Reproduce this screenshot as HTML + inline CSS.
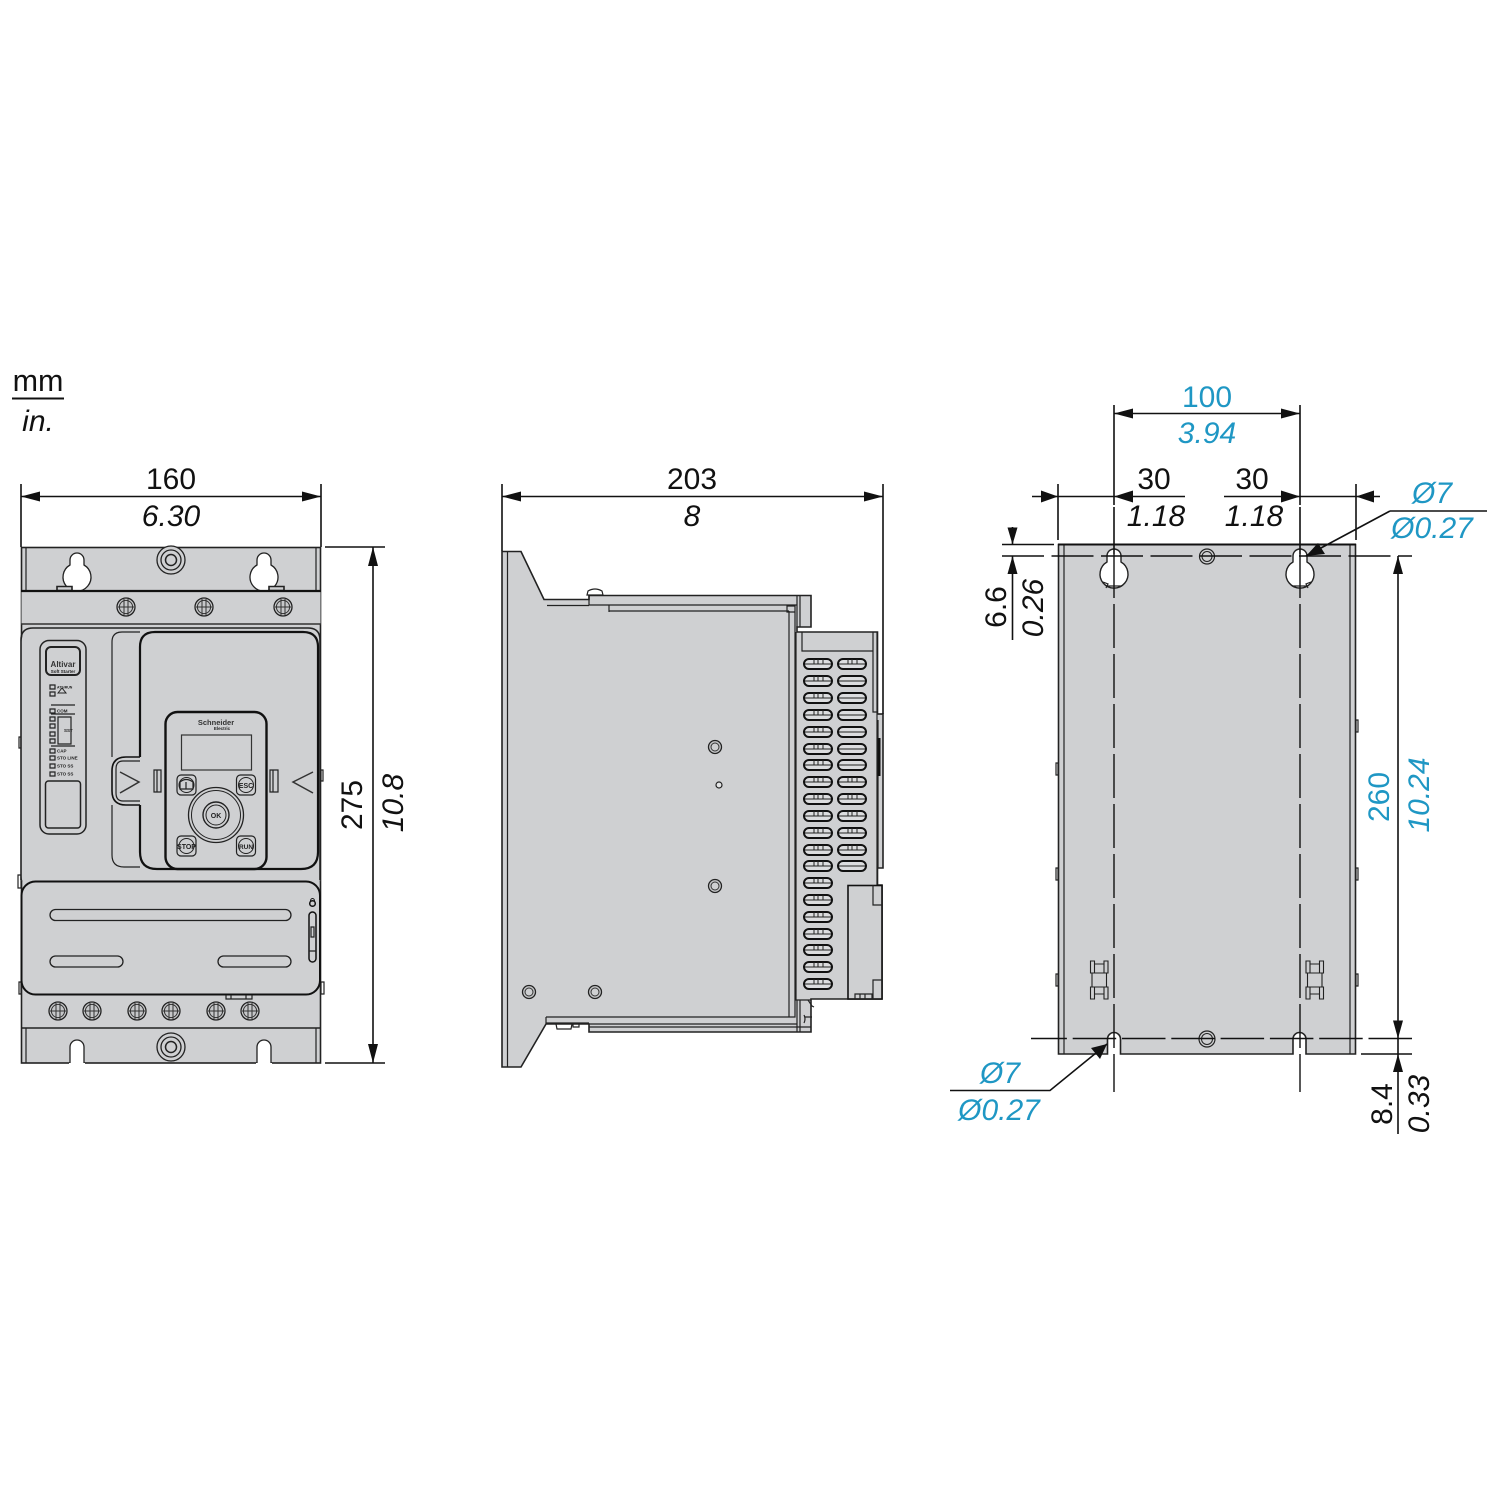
<!DOCTYPE html>
<html><head><meta charset="utf-8"><style>
html,body{margin:0;padding:0;background:#fff}
svg{display:block}
text{font-family:"Liberation Sans",sans-serif;font-size:30px;fill:#111}
.i{font-style:italic}
.b{fill:#1f97c4}
.m{text-anchor:middle}
.d{stroke:#111;stroke-width:1.6;fill:none}
.o{stroke:#222;stroke-width:1.6;fill:#cfd0d2}
.n{stroke:#222;stroke-width:1.2;fill:none}
.t{stroke:#111;stroke-width:2.2;fill:none}
.c{stroke:#111;stroke-width:1.4;fill:none;stroke-dasharray:44 6}
.h1{stroke:#111;stroke-width:1.4;fill:none;stroke-dasharray:42 7.5}
.h2{stroke:#111;stroke-width:1.4;fill:none;stroke-dasharray:43.5 5.8}
.a{fill:#111;stroke:none}
.s{font-size:4.5px;font-weight:bold;fill:#222}
</style></head><body>
<svg width="1500" height="1500" viewBox="0 0 1500 1500" xmlns="http://www.w3.org/2000/svg">
<defs>
<g id="scr"><circle r="9" fill="#c6c7c9" stroke="#222" stroke-width="1.3"/><circle r="6.6" fill="none" stroke="#333" stroke-width="1"/><path d="M-8 0H8M-2 -8V8M2 -8V8" stroke="#333" stroke-width="1" fill="none"/></g>
<g id="nut"><circle r="14" fill="#cfd0d2" stroke="#222" stroke-width="1.3"/><circle r="10" fill="none" stroke="#222" stroke-width="1.3"/><circle r="5.5" fill="#cfd0d2" stroke="#222" stroke-width="1.5"/></g>
<g id="hole"><circle r="6.5" fill="#c6c7c9" stroke="#222" stroke-width="1.3"/><circle r="4" fill="#cfd0d2" stroke="#333" stroke-width="1"/></g>
<g id="vent"><rect x="0" y="-5" width="28" height="10" rx="5" fill="#dcdddf" stroke="#111" stroke-width="2"/><path d="M1 0H27M10 -5V0M14 -5V0M19 -5V0" stroke="#222" stroke-width="1" fill="none"/></g>
<g id="ventb"><rect x="0" y="-5" width="28" height="10" rx="5" fill="#dcdddf" stroke="#111" stroke-width="2"/><path d="M1 0H27" stroke="#222" stroke-width="1" fill="none"/></g>
<g id="btn"><rect x="-9.500" y="-10" width="19" height="20" rx="4" fill="#cfd0d2" stroke="#222" stroke-width="1.2"/><circle r="7.500" fill="none" stroke="#222" stroke-width="1"/></g>
<g id="clip"><path d="M0 0h4v12h-4zM13.500 0h4v12h-4zM4 3h9.500M4 12h9.500M1.500 12v14h14.500v-14M0 26h4v12h-4zM13.500 26h4v12h-4zM4 26h9.500M4 33h9.500" fill="none" stroke="#222" stroke-width="1.1"/></g>
</defs>

<!-- mm / in -->
<text x="38" y="391" class="m" style="font-size:30.5px">mm</text>
<path d="M12 398.500H64" stroke="#111" stroke-width="2"/>
<text x="38" y="431" class="m i">in.</text>

<!-- FRONT VIEW -->
<path class="n" d="M19 737h2v11h-2zM18 875h3v13h-3zM19 982h2v12h-2zM321 770h2v11h-2zM321 982h3v12h-3z"/>
<rect class="o" x="21.500" y="547.500" width="299" height="515.500"/>
<path class="n" d="M26 547V590M316 547V590M26 1028V1063M316 1028V1063"/>
<!-- keyholes -->
<path d="M70 560A7 7 0 0 1 84 560V565A14 14 0 1 1 70 565Z" fill="#fff" stroke="#222" stroke-width="1.3"/>
<path d="M257 560A7 7 0 0 1 271 560V565A14 14 0 1 1 257 565Z" fill="#fff" stroke="#222" stroke-width="1.3"/>
<path class="o" d="M57 590.500v-4h15v4zM269 590.500v-4h15v4z" stroke-width="1"/>
<rect x="21.500" y="591" width="299" height="33" fill="#cfd0d2"/>
<path d="M21 591H321" class="t"/>
<path d="M21 624H321M21 880.500H321" stroke="#333" stroke-width="1.4" fill="none"/>
<use href="#nut" x="171" y="560"/>
<use href="#scr" x="126" y="607"/><use href="#scr" x="204" y="607"/><use href="#scr" x="283" y="607"/>
<!-- main body -->
<rect x="21.500" y="628" width="299" height="262" rx="14" fill="#cfd0d2" stroke="none"/>
<path d="M21 880V640q0-12 12-12H308q12 0 12 12V880" stroke="#222" stroke-width="1.6" fill="none"/>
<!-- left panel -->
<rect x="40" y="640.500" width="46" height="193.500" rx="9" fill="none" stroke="#222" stroke-width="1.5"/>
<rect x="46" y="647" width="34" height="28" rx="5" fill="none" stroke="#222" stroke-width="2"/>
<text x="63" y="667" class="m" style="font-size:8px;font-weight:bold;fill:#333">Altivar</text>
<text x="63" y="673" class="m s">Soft Starter</text>
<path class="n" d="M50 685h5v4h-5zM50 692h5v4h-5zM50 709h5v4h-5zM50 717h5v4h-5zM50 724h5v4h-5zM50 732h5v4h-5zM50 739h5v4h-5zM50 749h5v4h-5zM50 756h5v4h-5zM50 764h5v4h-5zM50 772h5v4h-5z"/>
<path d="M58 693l4-5 4 5z" fill="none" stroke="#222" stroke-width="1"/>
<path class="n" d="M51 705H75M51 714H75M51 746H75M58 717h13v27h-13z"/>
<text x="57" y="688.500" class="s" style="font-size:3.500px">ATS/RUN</text>
<text x="57" y="712.500" class="s">COM</text><text x="64" y="732" class="s">SST</text>
<text x="57" y="752.500" class="s">CAP</text><text x="57" y="759.500" class="s">STO LINE</text>
<text x="57" y="767.500" class="s">STO SS</text><text x="57" y="775.500" class="s">STO SS</text>
<rect x="45.500" y="781" width="35" height="47" rx="3" fill="none" stroke="#222" stroke-width="1.5"/>
<!-- recess / cover -->
<path class="n" d="M140 632H122q-10 0-10 10V757" stroke-width="1.4"/>
<path d="M140 757H126q-14 0-14 14V791q0 14 14 14H140" fill="none" stroke="#111" stroke-width="1.6"/>
<path class="n" d="M140 761H123q-7 0-7 8V793q0 8 7 8H140M112 805V855q0 12 12 12H140" stroke-width="1.3"/>
<path class="t" d="M140 757V647q0-15 15-15H303q15 0 15 15V852q0 17-17 17H157q-17 0-17-17V805" fill="#cfd0d2"/>
<path d="M120 772l19 10-19 11" fill="none" stroke="#333" stroke-width="1.5"/>
<path d="M313 772l-20 10 20 11" fill="none" stroke="#333" stroke-width="1.500"/>
<path class="n" d="M154 770h7v22h-7zM157 770v22M270 770h8v22h-8zM273 770v22"/>
<!-- keypad -->
<rect x="165.500" y="712" width="101" height="157" rx="12" fill="#cfd0d2" stroke="#111" stroke-width="2.4"/>
<text x="216" y="725" class="m" style="font-size:7.500px;font-weight:bold;fill:#333">Schneider</text>
<text x="222" y="730" class="m s">Electric</text>
<rect x="181.500" y="735" width="70" height="35" fill="none" stroke="#333" stroke-width="1.2"/>
<use href="#btn" x="186.500" y="785"/><use href="#btn" x="246" y="785"/><use href="#btn" x="186.500" y="846"/><use href="#btn" x="246" y="846"/>
<path d="M180 789v-7q6-5 13 0v7zM186 782v7" fill="none" stroke="#222" stroke-width="1.2"/>
<text x="246" y="788" class="m" style="font-size:7px;font-weight:bold;fill:#222">ESC</text>
<text x="186.500" y="849" class="m" style="font-size:7px;font-weight:bold;fill:#222">STOP</text>
<text x="246" y="849" class="m" style="font-size:6.500px;font-weight:bold;fill:#222">RUN</text>
<circle cx="216" cy="815" r="27.500" fill="none" stroke="#222" stroke-width="1.3"/>
<circle cx="216" cy="815" r="24.500" fill="none" stroke="#222" stroke-width="1"/>
<circle cx="216" cy="815" r="13" fill="none" stroke="#222" stroke-width="1.4"/>
<circle cx="216" cy="815" r="10" fill="none" stroke="#222" stroke-width="1"/>
<text x="216" y="818" class="m" style="font-size:7px;font-weight:bold;fill:#222">OK</text>
<!-- lower cover -->
<rect x="21.500" y="881.500" width="298.500" height="113" rx="14" fill="#cfd0d2" stroke="#111" stroke-width="2"/>
<rect x="50" y="909.500" width="241" height="11" rx="5.500" fill="none" stroke="#222" stroke-width="1.3"/>
<rect x="50" y="956" width="73" height="11" rx="5.500" fill="none" stroke="#222" stroke-width="1.3"/>
<rect x="218" y="956" width="73" height="11" rx="5.500" fill="none" stroke="#222" stroke-width="1.3"/>
<rect x="309" y="912" width="7" height="50" rx="3.500" fill="none" stroke="#111" stroke-width="1.5"/>
<path class="n" d="M311 927h3v10h-3zM309 951h7"/>
<circle cx="312.500" cy="903.500" r="2.800" fill="none" stroke="#111" stroke-width="1.500"/><path d="M310.500 901a2 2.500 0 0 1 4 0" fill="none" stroke="#111" stroke-width="1"/>
<path class="n" d="M226 995v4h26v-4M231 995v4M246 995v4"/>
<path d="M21 1028H321" stroke="#222" stroke-width="1.4"/>
<use href="#scr" x="58" y="1011"/><use href="#scr" x="92" y="1011"/><use href="#scr" x="137" y="1011"/><use href="#scr" x="171" y="1011"/><use href="#scr" x="216" y="1011"/><use href="#scr" x="250" y="1011"/>
<use href="#nut" x="171" y="1047"/>
<path d="M70 1064V1047a7 7 0 0 1 14 0V1064zM257 1064V1047a7 7 0 0 1 14 0V1064z" fill="#fff" stroke="#222" stroke-width="1.3"/>
<path d="M69 1064H85M256 1064H272" stroke="#fff" stroke-width="2"/>

<!-- front dims -->
<path class="d" d="M21 484V547M321 484V547M21 496.500H321M325 547H385M325 1063H385M373 547V1063"/>
<path class="a" d="M21 496.500l19-5v10zM321 496.500l-19-5v10zM373 547l-5 19h10zM373 1063l-5-19h10z"/>
<text x="171" y="489" class="m">160</text>
<text x="171" y="526" class="m i">6.30</text>
<text transform="translate(362 805) rotate(-90)" class="m">275</text>
<text transform="translate(403 803) rotate(-90)" class="m i">10.8</text>

<!-- SIDE VIEW -->
<path class="o" d="M502 551.500H521L544 599.500H589V595.500H811V627H797V632H877.500V714H883V868H877.500V885H882V999H811V1032H589V1024H546L521 1067H502Z"/>
<path class="n" d="M507.500 551V1067M547 605.500H589M589 595V605H797M609 605V612M609 611H789M789 611V1017M795 605V1017H546M546 1017V1023H589M589 1024H797M796 632V1000H811M787 606h8v6h-8zM797 595V627M800 595V627M797 1000V1032M800 1000V1032M812 1017H805M877 632V885M873 632V712H877M802 632V651H873M883 714H878M878 720V868M589 1027H811"/>
<path d="M879 738V776" stroke="#111" stroke-width="3"/>
<path class="n" d="M587 595l1-4q7-4 14 0l1 4z" fill="#b9babc"/>
<path class="n" d="M556 1024l1 5h14l1-5M573 1024v3h6v-3"/>
<path class="n" d="M808 1000l4 6 2 1M804 1015q2 4 0 8"/>
<rect x="848" y="885.500" width="34" height="113.500" fill="#cfd0d2" stroke="#111" stroke-width="1.600"/>
<path class="n" d="M873 885V905H882M873 999V980H882M855 999V994H872V999M860 994V999M865 994V999"/>
<use href="#vent" x="804" y="664"/><use href="#vent" x="804" y="681"/><use href="#vent" x="804" y="698"/><use href="#vent" x="804" y="715"/><use href="#vent" x="804" y="732"/><use href="#vent" x="804" y="749"/><use href="#vent" x="804" y="765"/><use href="#vent" x="804" y="782"/><use href="#vent" x="804" y="799"/><use href="#vent" x="804" y="816"/><use href="#vent" x="804" y="833"/><use href="#vent" x="804" y="850"/><use href="#vent" x="804" y="866"/><use href="#vent" x="804" y="883"/><use href="#vent" x="804" y="900"/><use href="#vent" x="804" y="917"/><use href="#vent" x="804" y="934"/><use href="#vent" x="804" y="950"/><use href="#vent" x="804" y="967"/><use href="#vent" x="804" y="984"/>
<use href="#vent" x="838" y="664"/><use href="#ventb" x="838" y="681"/><use href="#ventb" x="838" y="698"/><use href="#ventb" x="838" y="715"/><use href="#ventb" x="838" y="732"/><use href="#ventb" x="838" y="749"/><use href="#ventb" x="838" y="765"/><use href="#vent" x="838" y="782"/><use href="#vent" x="838" y="799"/><use href="#vent" x="838" y="816"/><use href="#vent" x="838" y="833"/><use href="#vent" x="838" y="850"/><use href="#ventb" x="838" y="866"/>
<use href="#hole" x="715" y="747"/><use href="#hole" x="715" y="886"/><use href="#hole" x="529" y="992"/><use href="#hole" x="595" y="992"/>
<circle cx="719" cy="785" r="3" fill="#e4e5e6" stroke="#222" stroke-width="1.2"/>
<!-- side dims -->
<path class="d" d="M502 484V551M883 484V714M502 496.500H883"/>
<path class="a" d="M502 496.500l19-5v10zM883 496.500l-19-5v10z"/>
<text x="692" y="489" class="m">203</text>
<text x="692" y="526" class="m i">8</text>

<!-- BACK VIEW -->
<path class="n" d="M1056 763h2v12h-2zM1056 868h2v12h-2zM1056 974h2v12h-2zM1356 720h2v12h-2zM1356 868h2v12h-2zM1356 974h2v12h-2z"/>
<path class="o" d="M1058.500 544.500H1355.500V1054H1306V1039a6.500 6.500 0 0 0 -13 0V1054H1120.500V1039a6.500 6.500 0 0 0 -13 0V1054H1058.500Z"/>
<path class="n" d="M1064 545V1054M1350 545V1054"/>
<path d="M1058 544.500H1356" stroke="#111" stroke-width="2"/>
<path d="M1107 556A7 7 0 0 1 1121 556V562A14 14 0 1 1 1107 562Z" fill="#fff" stroke="#222" stroke-width="1.4"/>
<path d="M1293 556A7 7 0 0 1 1307 556V562A14 14 0 1 1 1293 562Z" fill="#fff" stroke="#222" stroke-width="1.4"/>
<path class="n" d="M1103 582l5 2-2 4M1311 582l-5 2 2 4M1106 586h16M1292 586h16"/>
<circle cx="1207" cy="556.500" r="7.500" fill="#cfd0d2" stroke="#222" stroke-width="1.2"/><circle cx="1207" cy="556.500" r="5" fill="#cfd0d2" stroke="#222" stroke-width="1"/>
<circle cx="1207" cy="1039" r="8" fill="#cfd0d2" stroke="#222" stroke-width="1.2"/><circle cx="1207" cy="1039" r="5.500" fill="#cfd0d2" stroke="#222" stroke-width="1"/>
<use href="#clip" x="1090.500" y="961"/><use href="#clip" x="1306" y="961"/>
<!-- centre lines -->
<path class="d" d="M1114 405V505M1114 507V554M1300 405V505M1300 507V554"/>
<path class="c" d="M1114 554V1092"/>
<path class="c" d="M1300 554V1092"/>
<path class="h1" d="M1002 556H1412"/>
<path class="h2" d="M1412 1038.500H1031"/>
<!-- dims -->
<path class="d" d="M1114 413.500H1300M1032 496.500H1058M1058 484V540M1356 484V540M1058 496.500H1114M1114 496.500H1185M1224 496.500H1300M1300 496.500H1356M1356 496.500H1380M1002 544.500H1054M1012.500 527V544M1012.500 556V640M1398 556V1134M1361 1054H1412M1390 511H1487M1390 511L1306 556M950 1090.500H1050L1107 1044"/>
<path class="a" d="M1114 413.500l19-5v10zM1300 413.500l-19-5v10zM1058 496.500l-17-6v12zM1114 496.500l19-6v12zM1300 496.500l-19-6v12zM1356 496.500l18-6v12zM1012.500 544.500l-5-17h10zM1012.500 556l-5 18h10zM1398 556l-5 18h10zM1398 1038.500l-5-18h10zM1398 1054l-5 18h10zM1306 556l12-13 7 11zM1107 1044l-7 15-9-11z"/>
<text x="1207" y="407" class="m b">100</text>
<text x="1207" y="443" class="m i b">3.94</text>
<text x="1154" y="489" class="m">30</text>
<text x="1156" y="526" class="m i">1.18</text>
<text x="1252" y="489" class="m">30</text>
<text x="1254" y="526" class="m i">1.18</text>
<text x="1432" y="503" class="m i b">Ø7</text>
<text x="1432" y="538" class="m i b">Ø0.27</text>
<text x="1000" y="1083" class="m i b">Ø7</text>
<text x="999" y="1120" class="m i b">Ø0.27</text>
<text transform="translate(1006 607) rotate(-90)" class="m">6.6</text>
<text transform="translate(1043 608) rotate(-90)" class="m i">0.26</text>
<text transform="translate(1389 797) rotate(-90)" class="m b">260</text>
<text transform="translate(1429 795) rotate(-90)" class="m i b">10.24</text>
<text transform="translate(1392 1104) rotate(-90)" class="m">8.4</text>
<text transform="translate(1429 1104) rotate(-90)" class="m i">0.33</text>
</svg>
</body></html>
